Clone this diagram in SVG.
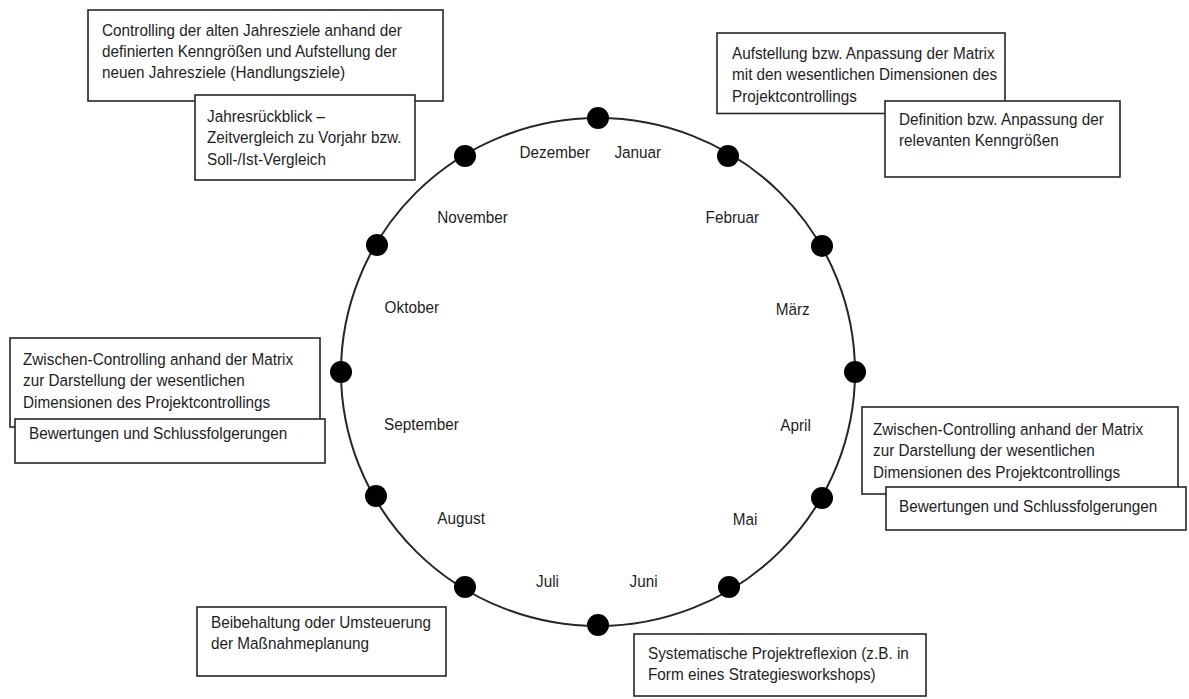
<svg xmlns="http://www.w3.org/2000/svg" width="1189" height="699" viewBox="0 0 1189 699">
<style>
.bg{fill:#ffffff}
.box{fill:#ffffff;stroke:#262626;stroke-width:1.6}
.t{font-family:"Liberation Sans",Arial,sans-serif;font-size:17px;fill:#1e1e1e}
.ring{fill:none;stroke:#262626;stroke-width:2}
.dot{fill:#000000}
</style>
<rect class="bg" x="0" y="0" width="1189" height="699"/>
<g id="connectors">
<ellipse class="ring" cx="598" cy="372" rx="257" ry="254"/>
</g>
<g id="dots">
<circle class="dot" cx="598" cy="118" r="11"/>
<circle class="dot" cx="728" cy="156" r="11"/>
<circle class="dot" cx="822" cy="246" r="11"/>
<circle class="dot" cx="855" cy="372" r="11"/>
<circle class="dot" cx="822" cy="498" r="11"/>
<circle class="dot" cx="729" cy="587" r="11"/>
<circle class="dot" cx="598" cy="625" r="11"/>
<circle class="dot" cx="465" cy="587" r="11"/>
<circle class="dot" cx="376" cy="496" r="11"/>
<circle class="dot" cx="341" cy="372" r="11"/>
<circle class="dot" cx="377" cy="245" r="11"/>
<circle class="dot" cx="465" cy="156" r="11"/>
</g>
<g id="months">
<text class="t" transform="translate(519.5 158.3) scale(0.9 1)">Dezember</text>
<text class="t" transform="translate(614.4 158.3) scale(0.9 1)">Januar</text>
<text class="t" transform="translate(437.3 222.7) scale(0.9 1)">November</text>
<text class="t" transform="translate(705.6 222.7) scale(0.9 1)">Februar</text>
<text class="t" transform="translate(384.6 312.7) scale(0.9 1)">Oktober</text>
<text class="t" transform="translate(775.8 315) scale(0.9 1)">März</text>
<text class="t" transform="translate(384 430.3) scale(0.9 1)">September</text>
<text class="t" transform="translate(780.2 431) scale(0.9 1)">April</text>
<text class="t" transform="translate(437.3 524.3) scale(0.9 1)">August</text>
<text class="t" transform="translate(732.8 525) scale(0.9 1)">Mai</text>
<text class="t" transform="translate(536 587.3) scale(0.9 1)">Juli</text>
<text class="t" transform="translate(629.6 587.3) scale(0.9 1)">Juni</text>
</g>
<g id="box-controlling">
<rect class="box" x="88" y="10" width="355" height="91"/>
<text class="t" transform="translate(102 35.5) scale(0.9 1)"><tspan x="0" y="0">Controlling der alten Jahresziele anhand der</tspan><tspan x="0" y="21.5">definierten Kenngrößen und Aufstellung der</tspan><tspan x="0" y="43">neuen Jahresziele (Handlungsziele)</tspan></text>
</g>
<g id="box-jahresrueckblick">
<rect class="box" x="195" y="95" width="220" height="85"/>
<text class="t" transform="translate(207 122) scale(0.9 1)"><tspan x="0" y="0">Jahresrückblick –</tspan><tspan x="0" y="21.5">Zeitvergleich zu Vorjahr bzw.</tspan><tspan x="0" y="43">Soll-/Ist-Vergleich</tspan></text>
</g>
<g id="box-aufstellung">
<rect class="box" x="717" y="33" width="288" height="80.5"/>
<text class="t" transform="translate(732 59) scale(0.9 1)"><tspan x="0" y="0">Aufstellung bzw. Anpassung der Matrix</tspan><tspan x="0" y="21.5">mit den wesentlichen Dimensionen des</tspan><tspan x="0" y="43">Projektcontrollings</tspan></text>
</g>
<g id="box-definition">
<rect class="box" x="885" y="101" width="235" height="76"/>
<text class="t" transform="translate(899 125) scale(0.9 1)"><tspan x="0" y="0">Definition bzw. Anpassung der</tspan><tspan x="0" y="21.5">relevanten Kenngrößen</tspan></text>
</g>
<g id="box-zwischen-links">
<rect class="box" x="10" y="338" width="310" height="89"/>
<text class="t" transform="translate(23 365) scale(0.9 1)"><tspan x="0" y="0">Zwischen-Controlling anhand der Matrix</tspan><tspan x="0" y="21.5">zur Darstellung der wesentlichen</tspan><tspan x="0" y="43">Dimensionen des Projektcontrollings</tspan></text>
</g>
<g id="box-bewertung-links">
<rect class="box" x="15" y="419" width="310" height="44"/>
<text class="t" transform="translate(29 439) scale(0.9 1)">Bewertungen und Schlussfolgerungen</text>
</g>
<g id="box-zwischen-rechts">
<rect class="box" x="862" y="407" width="316" height="87"/>
<text class="t" transform="translate(873 435) scale(0.9 1)"><tspan x="0" y="0">Zwischen-Controlling anhand der Matrix</tspan><tspan x="0" y="21.5">zur Darstellung der wesentlichen</tspan><tspan x="0" y="43">Dimensionen des Projektcontrollings</tspan></text>
</g>
<g id="box-bewertung-rechts">
<rect class="box" x="886" y="487" width="300" height="43"/>
<text class="t" transform="translate(899 512) scale(0.9 1)">Bewertungen und Schlussfolgerungen</text>
</g>
<g id="box-beibehaltung">
<rect class="box" x="197" y="607" width="249" height="69"/>
<text class="t" transform="translate(211 628) scale(0.9 1)"><tspan x="0" y="0">Beibehaltung oder Umsteuerung</tspan><tspan x="0" y="21.5">der Maßnahmeplanung</tspan></text>
</g>
<g id="box-reflexion">
<rect class="box" x="634" y="634" width="292" height="62"/>
<text class="t" transform="translate(648 659) scale(0.9 1)"><tspan x="0" y="0">Systematische Projektreflexion (z.B. in</tspan><tspan x="0" y="21.5">Form eines Strategiesworkshops)</tspan></text>
</g>
</svg>
